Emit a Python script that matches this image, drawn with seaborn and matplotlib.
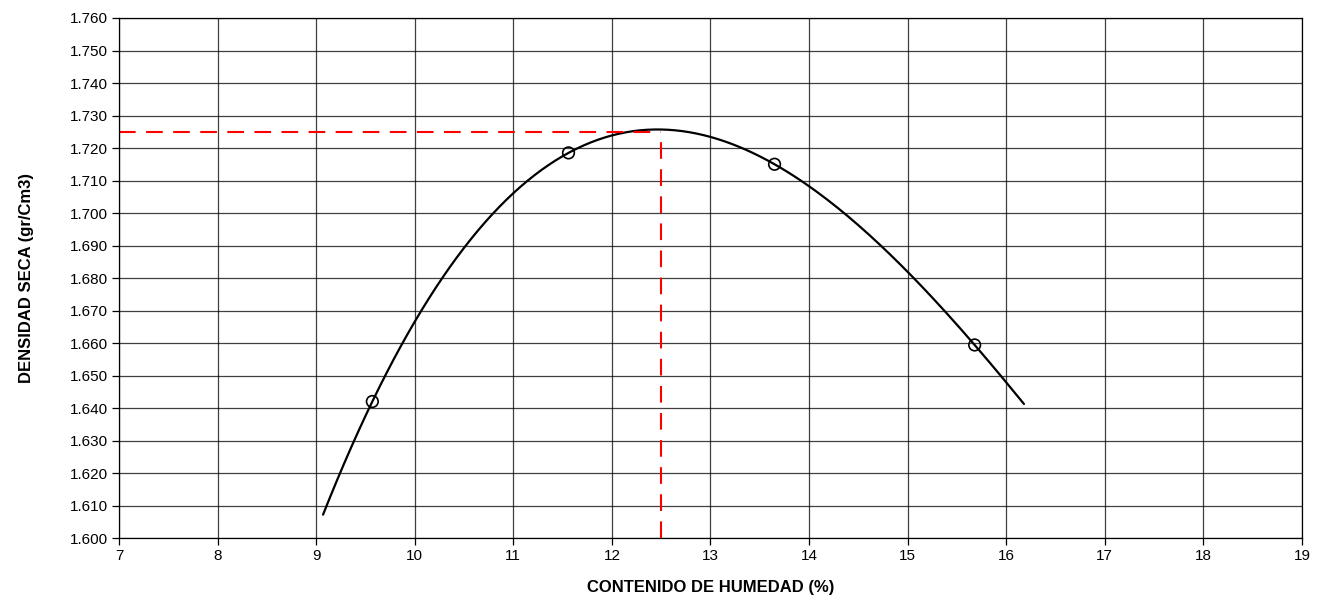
import numpy as np
import pandas as pd
import seaborn as sns
import matplotlib.pyplot as plt

# datos del ensayo proctor
humedad = [9.57, 11.56, 13.65, 15.68]
densidad = [1.642, 1.7185, 1.715, 1.6594]
hum_optima = 12.5
dens_maxima = 1.725

sns.set_style("white")
plt.rcParams['font.family'] = ['Liberation Sans', 'DejaVu Sans']

df = pd.DataFrame({"humedad": humedad, "densidad": densidad})

# linea de tendencia polinomica (grado 3), prolongada 0.5 a cada lado
coef = np.polyfit(df["humedad"], df["densidad"], 3)
xs = np.linspace(df["humedad"].min() - 0.5, df["humedad"].max() + 0.5, 200)
curva = pd.DataFrame({"humedad": xs, "densidad": np.polyval(coef, xs)})

fig = plt.figure(figsize=(13.25, 5.98), dpi=100)
ax = fig.add_axes([0.0898, 0.1003, 0.8928, 0.8696])

sns.lineplot(data=curva, x="humedad", y="densidad", color="black", linewidth=1.6, ax=ax)
sns.scatterplot(data=df, x="humedad", y="densidad", marker="o", s=70,
                facecolor="none", edgecolor="black", linewidth=1.2, ax=ax, zorder=3)

ax.plot([7, hum_optima], [dens_maxima, dens_maxima], color="red", linestyle=(0, (8, 5)), linewidth=1.5)
ax.plot([hum_optima, hum_optima], [1.600, dens_maxima], color="red", linestyle=(0, (8, 5)), linewidth=1.5)

ax.set_xlim(7, 19)
ax.set_ylim(1.600, 1.760)
ax.set_xticks(range(7, 20))
ax.set_yticks(np.arange(1.600, 1.7601, 0.010))
ax.set_yticklabels([f"{v:.3f}" for v in np.arange(1.600, 1.7601, 0.010)])
ax.grid(True, color="black", linewidth=0.9, alpha=0.75)
for s in ax.spines.values():
    s.set_color("black")
    s.set_linewidth(0.9)
ax.tick_params(axis="both", direction="out", length=5, width=0.9, color="black",
               labelcolor="black", labelsize=11, bottom=True, left=True, pad=3)

ax.set_xlabel("CONTENIDO DE HUMEDAD (%)", fontsize=12, fontweight="bold", labelpad=12, color="black")
ax.set_ylabel("DENSIDAD SECA (gr/Cm3)", fontsize=12, fontweight="bold", labelpad=26, color="black")

plt.savefig("out.png", dpi=100)
plt.close()
